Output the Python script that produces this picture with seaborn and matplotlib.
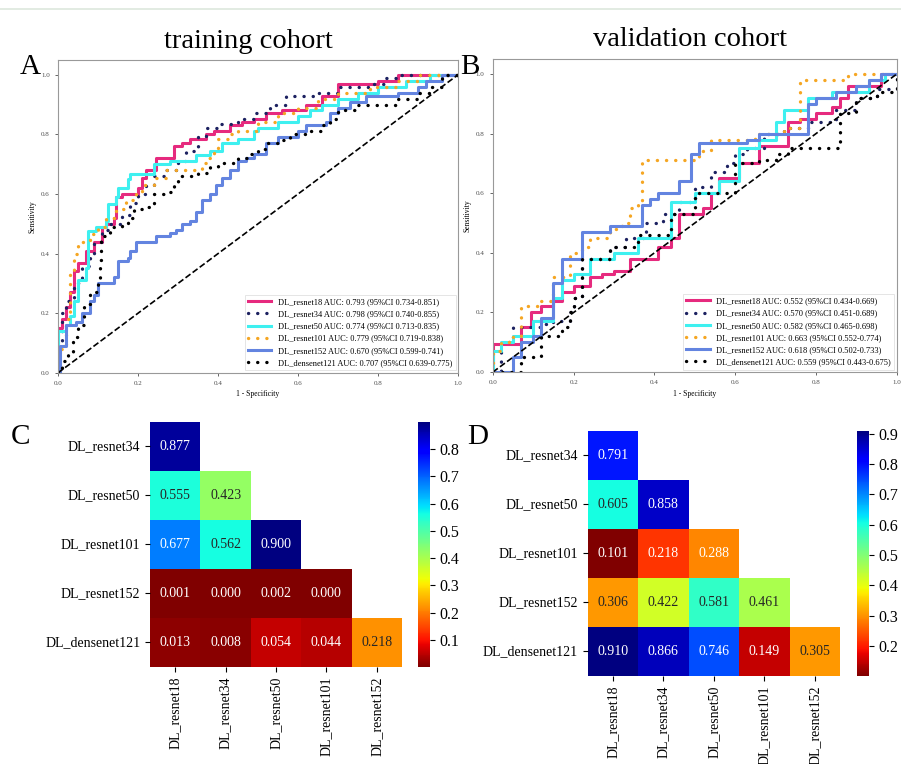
import numpy as np
import seaborn as sns
import matplotlib
matplotlib.use("Agg")
from matplotlib import pyplot as plt
from matplotlib.lines import Line2D

plt.rcParams["font.family"] = "serif"
plt.rcParams["font.serif"] = ["Liberation Serif", "DejaVu Serif"]

# ROC points: (1 - specificity, sensitivity), step corners
models = ["DL_resnet18", "DL_resnet34", "DL_resnet50", "DL_resnet101", "DL_resnet152", "DL_densenet121"]

tr_resnet18 = [(0, 0), (0, 0.15), (0.01, 0.18), (0.02, 0.22), (0.03, 0.27), (0.04, 0.34), (0.05, 0.37),
               (0.07, 0.41), (0.09, 0.44), (0.11, 0.49), (0.12, 0.5), (0.14, 0.52), (0.145, 0.59), (0.16, 0.6),
               (0.2, 0.62), (0.21, 0.655), (0.22, 0.68), (0.245, 0.72), (0.29, 0.76), (0.31, 0.77), (0.33, 0.785),
               (0.37, 0.8), (0.39, 0.81), (0.43, 0.83), (0.46, 0.84), (0.49, 0.85), (0.52, 0.87), (0.56, 0.88),
               (0.62, 0.9), (0.66, 0.93), (0.7, 0.97), (0.8, 0.98), (0.85, 1.0), (1.0, 1.0)]
tr_resnet34 = [(0, 0), (0, 0.1), (0.01, 0.2), (0.02, 0.24), (0.04, 0.3), (0.06, 0.36), (0.08, 0.4), (0.09, 0.44),
               (0.11, 0.48), (0.13, 0.5), (0.16, 0.53), (0.18, 0.57), (0.2, 0.6), (0.22, 0.63), (0.24, 0.66),
               (0.27, 0.68), (0.3, 0.71), (0.32, 0.745), (0.35, 0.79), (0.37, 0.82), (0.4, 0.835), (0.45, 0.85),
               (0.49, 0.87), (0.53, 0.9), (0.57, 0.93), (0.65, 0.94), (0.7, 0.96), (0.78, 0.97), (0.82, 0.99),
               (0.85, 1.0), (1.0, 1.0)]
tr_resnet50 = [(0, 0), (0, 0.14), (0.02, 0.16), (0.03, 0.19), (0.04, 0.24), (0.05, 0.31), (0.07, 0.35),
               (0.075, 0.475), (0.095, 0.49), (0.12, 0.51), (0.125, 0.565), (0.145, 0.59), (0.15, 0.62),
               (0.175, 0.65), (0.18, 0.667), (0.24, 0.7), (0.28, 0.71), (0.345, 0.73), (0.38, 0.745),
               (0.41, 0.77), (0.45, 0.785), (0.49, 0.81), (0.5, 0.82), (0.55, 0.84), (0.6, 0.86), (0.63, 0.88),
               (0.66, 0.9), (0.7, 0.92), (0.75, 0.94), (0.8, 0.96), (0.87, 0.98), (0.93, 1.0), (1.0, 1.0)]
tr_resnet101 = [(0, 0), (0, 0.08), (0.02, 0.18), (0.03, 0.33), (0.04, 0.4), (0.05, 0.44), (0.08, 0.465),
                (0.1, 0.49), (0.12, 0.52), (0.145, 0.55), (0.17, 0.58), (0.195, 0.6), (0.21, 0.63), (0.24, 0.655),
                (0.27, 0.68), (0.35, 0.685), (0.36, 0.705), (0.37, 0.72), (0.39, 0.745), (0.4, 0.785),
                (0.43, 0.8), (0.45, 0.81), (0.5, 0.84), (0.55, 0.87), (0.6, 0.89), (0.65, 0.92), (0.7, 0.94),
                (0.78, 0.96), (0.85, 0.98), (0.9, 1.0), (1.0, 1.0)]
tr_resnet152 = [(0, 0), (0.005, 0.09), (0.02, 0.16), (0.045, 0.17), (0.06, 0.2), (0.08, 0.24), (0.09, 0.26),
                (0.1, 0.3), (0.14, 0.32), (0.15, 0.375), (0.175, 0.385), (0.18, 0.41), (0.195, 0.44),
                (0.245, 0.46), (0.28, 0.47), (0.295, 0.48), (0.31, 0.5), (0.33, 0.51), (0.345, 0.54),
                (0.36, 0.58), (0.38, 0.6), (0.395, 0.63), (0.41, 0.655), (0.43, 0.68), (0.45, 0.71),
                (0.47, 0.72), (0.49, 0.735), (0.52, 0.77), (0.55, 0.79), (0.6, 0.81), (0.62, 0.83),
                (0.67, 0.84), (0.68, 0.87), (0.7, 0.89), (0.73, 0.91), (0.77, 0.93), (0.85, 0.94),
                (0.9, 0.96), (0.92, 0.98), (0.96, 1.0), (1.0, 1.0)]
tr_densenet121 = [(0, 0), (0.01, 0.04), (0.024, 0.07), (0.037, 0.12), (0.05, 0.16), (0.066, 0.23), (0.08, 0.27),
                  (0.1, 0.31), (0.105, 0.38), (0.108, 0.46), (0.13, 0.49), (0.16, 0.5), (0.175, 0.52),
                  (0.19, 0.55), (0.21, 0.555), (0.24, 0.6), (0.28, 0.605), (0.29, 0.63), (0.3, 0.66),
                  (0.35, 0.67), (0.38, 0.69), (0.4, 0.7), (0.41, 0.705), (0.45, 0.72), (0.48, 0.735),
                  (0.5, 0.75), (0.52, 0.77), (0.55, 0.78), (0.58, 0.8), (0.62, 0.81), (0.66, 0.83),
                  (0.68, 0.85), (0.7, 0.88), (0.75, 0.9), (0.85, 0.92), (0.9, 0.94), (0.93, 0.96),
                  (0.96, 1.0), (1.0, 1.0)]

va_resnet18 = [(0, 0), (0, 0.095), (0.07, 0.15), (0.095, 0.2), (0.12, 0.22), (0.15, 0.24), (0.17, 0.27),
               (0.2, 0.29), (0.24, 0.32), (0.27, 0.33), (0.3, 0.34), (0.34, 0.38), (0.41, 0.42), (0.44, 0.45),
               (0.46, 0.53), (0.52, 0.55), (0.54, 0.6), (0.56, 0.65), (0.61, 0.7), (0.66, 0.76), (0.73, 0.84),
               (0.76, 0.85), (0.8, 0.87), (0.84, 0.89), (0.86, 0.92), (0.88, 0.96), (0.96, 1.0), (1.0, 1.0)]
va_resnet34 = [(0, 0), (0.02, 0.03), (0.02, 0.1), (0.05, 0.15), (0.12, 0.16), (0.15, 0.17), (0.19, 0.2),
               (0.2, 0.25), (0.22, 0.38), (0.29, 0.42), (0.33, 0.45), (0.38, 0.5), (0.42, 0.53), (0.46, 0.57),
               (0.5, 0.62), (0.54, 0.67), (0.58, 0.7), (0.6, 0.73), (0.63, 0.75), (0.67, 0.8), (0.72, 0.82),
               (0.78, 0.84), (0.85, 0.88), (0.9, 0.92), (0.95, 0.95), (1.0, 1.0)]
va_resnet50 = [(0, 0), (0, 0.07), (0.02, 0.1), (0.05, 0.12), (0.1, 0.17), (0.15, 0.25), (0.17, 0.31),
               (0.2, 0.33), (0.24, 0.38), (0.3, 0.4), (0.36, 0.45), (0.44, 0.57), (0.5, 0.6), (0.56, 0.64),
               (0.61, 0.75), (0.66, 0.78), (0.7, 0.84), (0.72, 0.88), (0.78, 0.92), (0.84, 0.94), (0.93, 0.98),
               (0.97, 1.0), (1.0, 1.0)]
va_resnet101 = [(0, 0), (0, 0.07), (0.02, 0.1), (0.05, 0.12), (0.07, 0.22), (0.12, 0.24), (0.15, 0.32),
                (0.19, 0.4), (0.22, 0.42), (0.24, 0.45), (0.29, 0.48), (0.32, 0.5), (0.34, 0.55), (0.36, 0.57),
                (0.37, 0.71), (0.51, 0.74), (0.54, 0.78), (0.65, 0.8), (0.72, 0.82), (0.76, 0.98), (0.88, 1.0),
                (1.0, 1.0)]
va_resnet152 = [(0, 0), (0.05, 0.05), (0.07, 0.1), (0.1, 0.12), (0.12, 0.18), (0.15, 0.3), (0.17, 0.38),
                (0.22, 0.47), (0.29, 0.49), (0.37, 0.56), (0.39, 0.58), (0.41, 0.6), (0.46, 0.64), (0.49, 0.73),
                (0.51, 0.77), (0.63, 0.78), (0.66, 0.8), (0.78, 0.9), (0.8, 0.92), (0.85, 0.94), (0.9, 0.96),
                (0.93, 0.98), (0.96, 1.0), (1.0, 1.0)]
va_densenet121 = [(0, 0), (0.07, 0.05), (0.12, 0.07), (0.12, 0.12), (0.17, 0.15), (0.19, 0.2), (0.2, 0.25),
                  (0.22, 0.38), (0.29, 0.42), (0.36, 0.46), (0.44, 0.53), (0.5, 0.6), (0.6, 0.7), (0.66, 0.71),
                  (0.7, 0.73), (0.73, 0.75), (0.86, 0.77), (0.86, 0.87), (0.9, 0.92), (0.95, 0.94),
                  (1.0, 1.0)]

train_auc = ["0.793 (95%CI 0.734-0.851)", "0.798 (95%CI 0.740-0.855)", "0.774 (95%CI 0.713-0.835)",
             "0.779 (95%CI 0.719-0.838)", "0.670 (95%CI 0.599-0.741)", "0.707 (95%CI 0.639-0.775)"]
valid_auc = ["0.552 (95%CI 0.434-0.669)", "0.570 (95%CI 0.451-0.689)", "0.582 (95%CI 0.465-0.698)",
             "0.663 (95%CI 0.552-0.774)", "0.618 (95%CI 0.502-0.733)", "0.559 (95%CI 0.443-0.675)"]
diag_x = [0, 1]
diag_y = [0, 1]

# DeLong p-values (lower triangle)
row_names = ["DL_resnet34", "DL_resnet50", "DL_resnet101", "DL_resnet152", "DL_densenet121"]
col_names = ["DL_resnet18", "DL_resnet34", "DL_resnet50", "DL_resnet101", "DL_resnet152"]
nan = np.nan
p_train = [[0.877, nan, nan, nan, nan],
           [0.555, 0.423, nan, nan, nan],
           [0.677, 0.562, 0.900, nan, nan],
           [0.001, 0.000, 0.002, 0.000, nan],
           [0.013, 0.008, 0.054, 0.044, 0.218]]
p_valid = [[0.791, nan, nan, nan, nan],
           [0.605, 0.858, nan, nan, nan],
           [0.101, 0.218, 0.288, nan, nan],
           [0.306, 0.422, 0.581, 0.461, nan],
           [0.910, 0.866, 0.746, 0.149, 0.305]]
cbar_ticks_train = [0.1, 0.2, 0.3, 0.4, 0.5, 0.6, 0.7, 0.8]
cbar_ticks_valid = [0.2, 0.3, 0.4, 0.5, 0.6, 0.7, 0.8, 0.9]

dots = (0, (0.05, 2.7))
styles = [dict(color="#E62A7E", linestyle="-", lw=2.2),
          dict(color="#1c2160", linestyle=dots, lw=2.4),
          dict(color="#3EF0F0", linestyle="-", lw=2.2),
          dict(color="#F5A623", linestyle=dots, lw=2.4),
          dict(color="#6384E0", linestyle="-", lw=2.2),
          dict(color="black", linestyle=dots, lw=2.4)]


def draw_roc(ax, curves, aucs):
    for name, pts, auc, st in zip(models, curves, aucs, styles):
        fpr = [p[0] for p in pts]
        tpr = [p[1] for p in pts]
        sns.lineplot(x=fpr, y=tpr, ax=ax, estimator=None, sort=False, drawstyle="steps-post",
                     label="{} AUC: {}".format(name, auc), dash_capstyle="round", **st)
    sns.lineplot(x=diag_x, y=diag_y, ax=ax, color="black", linestyle="--", lw=1.2)
    ax.set_xlim(0, 1)
    ax.set_ylim(0, 1.05)
    ax.set_xticks(np.arange(0, 1.01, 0.2))
    ax.set_yticks(np.arange(0, 1.01, 0.2))
    ax.tick_params(labelsize=5, length=2.5, width=0.6, colors="0.3")
    ax.set_xlabel("1 - Specificity", fontsize=5.5, labelpad=3)
    ax.set_ylabel("Sensitivity", fontsize=5.5, labelpad=3)
    for s in ax.spines.values():
        s.set_color("0.6")
        s.set_linewidth(0.8)
    leg = ax.legend(loc="lower right", fontsize=6, handlelength=2.8, labelspacing=0.5,
                    borderaxespad=0.3, frameon=True, fancybox=False)
    leg.get_frame().set_edgecolor("0.85")
    leg.get_frame().set_linewidth(0.6)


def draw_heat(ax, cax, data, ticks):
    sns.heatmap(np.array(data), ax=ax, cbar_ax=cax, cmap="jet_r", annot=True, fmt=".3f",
                annot_kws={"size": 10}, xticklabels=col_names, yticklabels=row_names,
                cbar_kws={"ticks": ticks})
    ax.tick_params(labelsize=10)
    ax.set_yticklabels(row_names, rotation=0)
    ax.set_xticklabels(col_names, rotation=90)
    cax.tick_params(labelsize=11.5)


fig = plt.figure(figsize=(9.01, 7.64), dpi=100)
fig.add_artist(Line2D([0, 1], [0.988, 0.988], color="#dde8dd", lw=1.2))

axA = fig.add_axes([0.0644, 0.512, 0.444, 0.4097])
axB = fig.add_axes([0.547, 0.513, 0.4484, 0.4097])
draw_roc(axA, [tr_resnet18, tr_resnet34, tr_resnet50, tr_resnet101, tr_resnet152, tr_densenet121], train_auc)
draw_roc(axB, [va_resnet18, va_resnet34, va_resnet50, va_resnet101, va_resnet152, va_densenet121], valid_auc)

axC = fig.add_axes([0.1665, 0.127, 0.2797, 0.3207])
caxC = fig.add_axes([0.4639, 0.127, 0.0133, 0.3207])
axD = fig.add_axes([0.6523, 0.1152, 0.28, 0.321])
caxD = fig.add_axes([0.9508, 0.1152, 0.0137, 0.321])
draw_heat(axC, caxC, p_train, cbar_ticks_train)
draw_heat(axD, caxD, p_valid, cbar_ticks_valid)

fig.text(248 / 901, 1 - 41 / 764, "training cohort", fontsize=20.5, ha="center", va="center")
fig.text(690 / 901, 1 - 39 / 764, "validation cohort", fontsize=20.5, ha="center", va="center")
for lbl, x, y in [("A", 30, 67), ("B", 470, 67), ("C", 20, 437), ("D", 478, 437)]:
    fig.text(x / 901, 1 - y / 764, lbl, fontsize=21, ha="center", va="center")

fig.savefig("out.png", dpi=100)
